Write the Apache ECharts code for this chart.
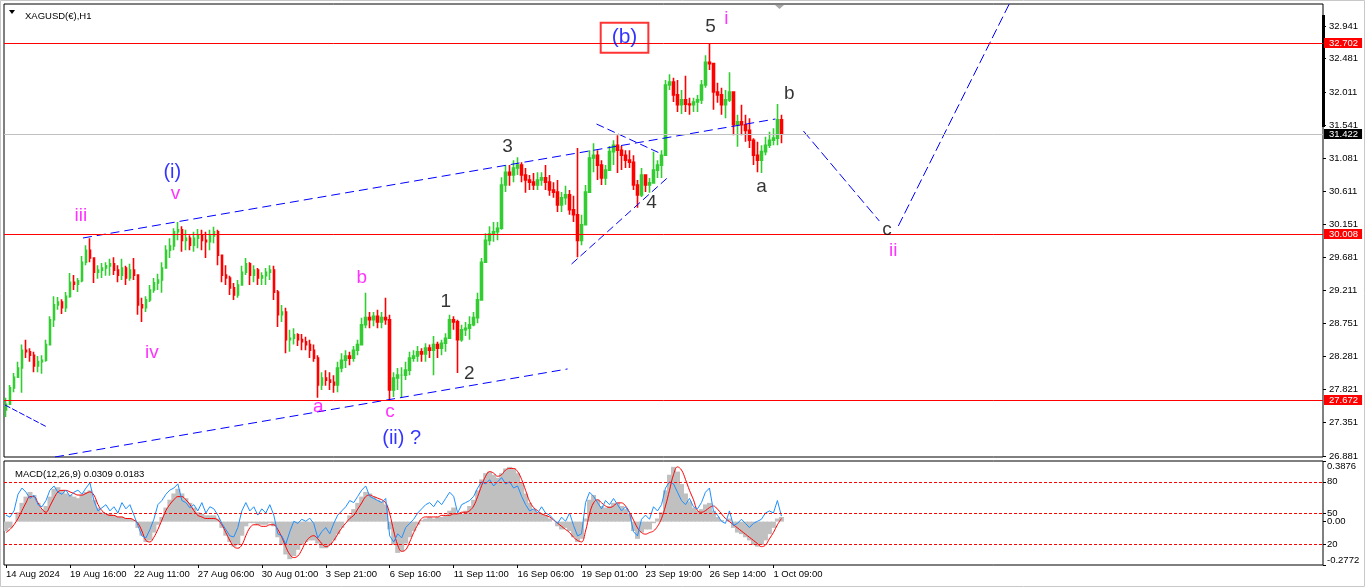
<!DOCTYPE html>
<html><head><meta charset="utf-8">
<script src="https://cdn.jsdelivr.net/npm/echarts@6/dist/echarts.min.js"></script>
<style>html,body{margin:0;padding:0;background:#fff}#c{width:1366px;height:588px}</style>
</head><body><div id="c"></div>
<script>
// ---------------- DATA ----------------
const symbolTitle = 'XAGUSD(€),H1';
const macdTitle = 'MACD(12,26,9) 0.0309 0.0183';
const xTickLabels = ['14 Aug 2024','19 Aug 16:00','22 Aug 11:00','27 Aug 06:00','30 Aug 01:00','3 Sep 21:00','6 Sep 16:00','11 Sep 11:00','16 Sep 06:00','19 Sep 01:00','23 Sep 19:00','26 Sep 14:00','1 Oct 09:00'];
const priceTicks = ['26.881','27.351','27.821','28.281','28.751','29.211','29.681','30.151','30.611','31.081','31.541','32.011','32.481','32.941'];
const macdTicks = [-0.2772, 0, 0.3876];
const oscLevels = [20, 50, 80];
const levelLines = [32.702, 30.008, 27.672];
const bidPrice = 31.422;

const firstOpen = 27.53;
const highs = [27.70,27.88,28.05,28.21,28.45,28.52,28.40,28.35,28.29,28.30,
28.52,28.85,29.13,29.12,29.09,29.19,29.46,29.43,29.39,29.70,
29.85,29.95,29.61,29.57,29.60,29.61,29.66,29.68,29.57,29.66,
29.56,29.59,29.67,29.43,29.11,29.13,29.29,29.39,29.45,29.61,
29.85,29.95,30.09,30.18,30.12,30.07,29.99,30.04,30.08,30.07,
30.04,30.07,30.11,30.07,29.71,29.57,29.42,29.32,29.36,29.56,
29.67,29.61,29.57,29.53,29.47,29.53,29.57,29.56,29.22,29.01,
28.97,28.66,28.68,28.61,28.60,28.56,28.52,28.45,28.30,28.06,
28.09,28.06,28.02,28.21,28.33,28.37,28.35,28.43,28.52,28.83,
29.18,28.91,28.91,28.94,28.91,29.11,28.87,28.06,28.12,28.13,
28.21,28.35,28.37,28.43,28.40,28.47,28.45,28.57,28.49,28.52,
28.61,28.87,28.85,28.80,28.73,28.77,28.85,28.91,29.18,29.67,
30.02,30.12,30.18,30.18,30.81,30.98,30.98,31.05,31.09,31.02,
30.94,30.84,30.87,30.88,30.88,30.98,30.84,30.74,30.77,30.60,
30.69,30.63,30.55,31.22,30.28,30.70,31.19,31.29,31.19,31.05,
30.98,31.25,31.33,31.40,31.25,31.19,31.19,31.12,30.77,30.94,
30.85,30.80,31.17,31.05,31.19,32.18,32.26,32.21,32.18,32.04,
32.24,31.93,31.93,31.97,32.18,32.53,32.70,32.41,32.14,32.07,
32.04,32.29,32.01,31.69,31.83,31.69,31.64,31.36,31.31,31.26,
31.38,31.45,31.50,31.84,31.69];
const lows = [27.43,27.60,27.78,27.98,27.77,28.26,28.21,28.06,28.06,28.04,
28.21,28.45,28.70,28.94,28.88,28.91,29.11,29.22,29.19,29.33,
29.57,29.61,29.32,29.38,29.39,29.42,29.42,29.43,29.33,29.36,
29.29,29.35,29.36,28.87,28.77,28.91,29.05,29.18,29.22,29.18,
29.53,29.67,29.78,29.92,29.76,29.78,29.78,29.76,29.81,29.78,
29.67,29.78,29.88,29.57,29.33,29.29,29.15,29.08,29.11,29.29,
29.43,29.29,29.33,29.29,29.29,29.29,29.36,29.08,28.70,28.77,
28.33,28.35,28.45,28.43,28.37,28.37,28.26,28.21,27.70,27.81,
27.87,27.81,27.77,27.78,28.06,28.12,28.16,28.21,28.30,28.45,
28.68,28.68,28.71,28.68,28.68,28.73,27.67,27.71,27.81,27.70,
27.95,28.02,28.21,28.21,28.21,28.21,28.26,28.02,28.26,28.30,
28.35,28.54,28.66,28.05,28.49,28.57,28.52,28.71,28.75,29.08,
29.61,29.85,29.90,29.92,30.07,30.60,30.69,30.74,30.84,30.74,
30.59,30.63,30.63,30.63,30.69,30.63,30.55,30.52,30.32,30.32,
30.42,30.28,30.18,29.68,29.85,30.14,30.60,30.88,30.77,30.70,
30.70,30.91,30.98,30.87,30.91,30.94,30.94,30.63,30.38,30.53,
30.60,30.59,30.77,30.80,30.80,31.12,32.04,31.87,31.73,31.70,
31.73,31.69,31.73,31.73,31.84,32.07,32.32,31.76,31.86,31.69,
31.64,31.87,31.40,31.24,31.40,31.31,31.22,30.98,30.88,30.87,
31.12,31.22,31.26,31.26,31.29];
const closes = [27.61,27.84,27.99,28.12,28.37,28.35,28.30,28.15,28.21,28.23,
28.45,28.80,29.01,29.05,28.97,29.13,29.33,29.30,29.35,29.61,
29.78,29.67,29.47,29.50,29.53,29.56,29.59,29.50,29.43,29.53,
29.39,29.50,29.43,29.01,28.97,29.08,29.22,29.32,29.36,29.53,
29.78,29.84,30.04,30.07,29.92,29.95,29.85,29.95,29.99,29.92,
29.90,29.98,30.04,29.71,29.43,29.39,29.25,29.15,29.29,29.47,
29.59,29.43,29.50,29.39,29.42,29.47,29.50,29.19,28.87,28.91,
28.52,28.54,28.59,28.52,28.49,28.45,28.37,28.26,27.88,27.98,
27.95,27.92,27.88,28.12,28.23,28.29,28.26,28.37,28.45,28.73,
28.83,28.80,28.85,28.77,28.83,28.80,27.81,27.98,28.02,28.02,
28.09,28.26,28.29,28.35,28.32,28.40,28.37,28.45,28.40,28.47,
28.54,28.80,28.77,28.52,28.66,28.68,28.73,28.83,29.08,29.61,
29.92,30.01,30.04,30.09,30.70,30.88,30.84,30.94,30.98,30.84,
30.77,30.74,30.70,30.77,30.80,30.74,30.63,30.60,30.42,30.52,
30.56,30.35,30.28,29.92,30.14,30.60,31.08,31.12,30.98,30.80,
30.91,31.17,31.26,31.19,31.12,31.05,31.02,30.70,30.56,30.84,
30.70,30.73,30.91,30.98,31.12,32.11,32.15,31.97,31.83,31.90,
31.84,31.83,31.87,31.90,32.11,32.43,32.41,32.01,31.97,31.83,
31.90,32.01,31.55,31.59,31.55,31.47,31.33,31.12,31.05,31.17,
31.26,31.33,31.36,31.62,31.42];

const macdHist = [-0.06,-0.04,0.00,0.06,0.12,0.16,0.19,0.17,0.12,0.08,
0.10,0.16,0.21,0.22,0.20,0.18,0.17,0.16,0.15,0.17,
0.19,0.20,0.14,0.09,0.06,0.05,0.05,0.04,0.03,0.03,
0.02,0.02,0.01,-0.04,-0.09,-0.13,-0.12,-0.07,-0.02,0.03,
0.09,0.14,0.18,0.21,0.18,0.15,0.12,0.09,0.06,0.05,
0.04,0.04,0.04,0.02,-0.04,-0.09,-0.13,-0.16,-0.15,-0.09,
-0.03,-0.01,-0.01,-0.02,-0.02,-0.02,-0.01,-0.03,-0.10,-0.15,
-0.21,-0.24,-0.22,-0.18,-0.15,-0.13,-0.12,-0.12,-0.14,-0.17,
-0.17,-0.15,-0.12,-0.08,-0.04,0.00,0.04,0.08,0.12,0.16,
0.19,0.18,0.16,0.14,0.13,0.11,-0.05,-0.15,-0.20,-0.19,
-0.14,-0.10,-0.06,-0.02,0.01,0.02,0.03,0.02,0.03,0.03,
0.04,0.07,0.09,0.05,0.05,0.07,0.10,0.14,0.20,0.27,
0.31,0.32,0.30,0.28,0.31,0.34,0.35,0.34,0.31,0.25,
0.18,0.12,0.08,0.06,0.05,0.04,0.02,0.00,-0.03,-0.05,
-0.04,-0.06,-0.10,-0.13,-0.11,0.02,0.14,0.17,0.14,0.10,
0.09,0.10,0.12,0.12,0.10,0.08,0.05,-0.06,-0.11,-0.07,
-0.05,-0.05,-0.01,0.02,0.06,0.20,0.30,0.35,0.32,0.24,
0.18,0.13,0.09,0.07,0.08,0.11,0.12,0.07,0.03,0.01,
0.00,0.02,-0.04,-0.07,-0.08,-0.10,-0.12,-0.15,-0.16,-0.15,
-0.12,-0.08,-0.04,0.02,0.03];
const macdSignal = [-0.07,-0.05,-0.02,0.02,0.07,0.12,0.16,0.16,0.12,0.08,
0.06,0.10,0.15,0.19,0.20,0.20,0.19,0.18,0.17,0.17,
0.18,0.19,0.17,0.11,0.07,0.05,0.04,0.04,0.03,0.03,
0.02,0.02,0.01,-0.01,-0.06,-0.12,-0.13,-0.10,-0.05,0.01,
0.07,0.11,0.14,0.16,0.16,0.14,0.11,0.07,0.04,0.03,
0.02,0.02,0.02,0.01,-0.02,-0.07,-0.12,-0.16,-0.17,-0.15,
-0.09,-0.04,-0.02,-0.02,-0.03,-0.03,-0.02,-0.02,-0.05,-0.10,
-0.16,-0.21,-0.23,-0.22,-0.18,-0.13,-0.10,-0.09,-0.11,-0.14,
-0.16,-0.15,-0.12,-0.08,-0.04,-0.01,0.02,0.04,0.08,0.12,
0.16,0.17,0.16,0.15,0.14,0.12,0.05,-0.06,-0.15,-0.19,
-0.18,-0.13,-0.07,-0.02,0.02,0.03,0.03,0.03,0.03,0.04,
0.04,0.04,0.05,0.05,0.06,0.06,0.07,0.10,0.16,0.23,
0.29,0.32,0.31,0.29,0.30,0.33,0.34,0.34,0.32,0.27,
0.20,0.13,0.09,0.07,0.05,0.04,0.03,0.01,-0.01,-0.03,
-0.05,-0.07,-0.10,-0.12,-0.13,-0.06,0.05,0.12,0.14,0.12,
0.10,0.09,0.10,0.12,0.12,0.10,0.06,0.01,-0.04,-0.07,
-0.08,-0.07,-0.06,-0.03,0.02,0.10,0.20,0.30,0.35,0.33,
0.27,0.20,0.14,0.07,0.06,0.07,0.09,0.10,0.08,0.05,
0.02,0.00,-0.02,-0.04,-0.06,-0.08,-0.10,-0.12,-0.14,-0.16,
-0.15,-0.11,-0.07,-0.02,0.02];
const oscLine = [48,46,52,68,74,70,64,67,58,56,
62,72,76,70,68,72,66,70,72,68,
74,79,62,52,55,58,52,56,50,60,
54,58,48,38,28,26,34,44,58,62,
68,72,74,78,62,60,55,58,52,60,
50,56,54,48,40,34,28,27,36,52,
60,52,56,48,54,50,58,48,30,28,
20,32,42,40,44,42,45,40,26,32,
36,30,40,48,52,56,62,60,66,72,
76,66,64,62,60,64,28,22,30,26,
36,40,44,50,54,58,60,56,62,58,
64,70,66,50,58,60,62,66,74,80,
78,82,76,80,84,78,80,74,76,66,
58,52,54,50,56,50,48,44,40,46,
42,50,38,28,30,60,70,66,60,54,
62,58,64,58,52,56,50,32,28,44,
48,44,56,52,58,74,80,78,70,62,
58,64,56,54,60,70,74,52,48,42,
40,52,38,40,44,40,36,40,42,44,
50,52,50,62,47];

// trend lines: [bar index (4h slot), price]
const channelUpper = [[19.25, 29.953], [192.5, 31.630]];
const channelLower = [[12.25, 26.866], [140.5, 28.107]];
const leadLine = [[-0.25, 27.599], [10.25, 27.289]];
const wedgeLower = [[141.5, 29.586], [166, 30.827]];
const wedgeUpper = [[147.75, 31.559], [163.5, 31.151]];
const projectionDown = [[199.5, 31.461], [218.5, 30.192]];
const projectionUp = [[223.25, 30.122], [251, 33.251]];

// wave labels: text, bar index, price, degree
const waveText  = ['(b)','5','i','b','a','3','4','1','2','c','ii','(i)','v','iii','iv','b','a','c','(ii) ?'];
const waveX     = [154.75,176.25,180.25,196,189,125.5,161.5,110,115.9,220.4,222,41.6,42.4,18.75,36.5,89,78.1,96.1,99];
const wavePrice = [32.777,32.931,33.039,31.982,30.672,31.235,30.446,29.051,28.040,30.066,29.770,30.876,30.573,30.263,28.339,29.396,27.571,27.501,27.120];
const waveDegree= ['minor','minuette','minute','minuette','minuette','minuette','minuette','minuette','minuette','minuette','minute','minor','minute','minute','minute','minute','minute','minute','minor'];

// ---------------- CHART ----------------
const SLOTS = 330;
const FONT = '"Liberation Sans", Arial, sans-serif';
const FS = 9.5;
const cats = Array.from({length: SLOTS}, (_, i) => (i % 16 === 0 && xTickLabels[i / 16]) ? xTickLabels[i / 16] : '');
const candles = closes.map((c, i) => {
  const o = i === 0 ? firstOpen : closes[i - 1];
  return [o, c, Math.min(lows[i], o, c), Math.max(highs[i], o, c)];
});
const degreeStyle = {
  minor: {color: '#0000ff', fontSize: 20},
  minute: {color: '#ff00ff', fontSize: 19},
  minuette: {color: '#000000', fontSize: 19}
};
const labelData = waveText.map((t, i) => {
  const st = degreeStyle[waveDegree[i]];
  const lab = {show: true, position: 'inside', formatter: t, color: st.color, fontSize: st.fontSize, fontFamily: FONT};
  if (t === '(b)') Object.assign(lab, {fontSize: 21, borderColor: '#ff0000', borderWidth: 2, padding: [5, 11, 4, 11], lineHeight: 21});
  return {value: [waveX[i], wavePrice[i]], label: lab};
});
function trend(data, dash) {
  return {type: 'line', xAxisIndex: 1, yAxisIndex: 0, data: data, showSymbol: false, symbol: 'none', silent: true, z: 4,
    lineStyle: {color: '#0000ff', width: 1, type: dash}, animation: false};
}
const redLab = v => ({show: true, position: 'end', distance: 1, formatter: v.toFixed(3), backgroundColor: '#ff0000', color: '#fff', fontSize: FS, fontFamily: FONT, padding: [1, 4, 0, 5], lineHeight: 9});

const chart = echarts.init(document.getElementById('c'), null, {renderer: 'canvas'});
chart.setOption({
  animation: false,
  backgroundColor: '#ffffff',
  textStyle: {fontFamily: FONT},
  title: [
    {text: symbolTitle, left: 20, top: 6, textStyle: {fontSize: FS, fontWeight: 'normal', color: '#000', fontFamily: FONT}},
    {text: macdTitle, left: 10, top: 464, textStyle: {fontSize: FS, fontWeight: 'normal', color: '#000', fontFamily: FONT}}
  ],
  grid: [
    {left: 4, right: 43, top: 4, height: 453, show: true, borderColor: '#000', borderWidth: 1, backgroundColor: 'transparent'},
    {left: 4, right: 43, top: 461, height: 104, show: true, borderColor: '#000', borderWidth: 1, backgroundColor: 'transparent'}
  ],
  xAxis: [
    {type: 'category', gridIndex: 0, data: cats, boundaryGap: true, axisLine: {show: false, onZero: false}, axisTick: {show: false}, axisLabel: {show: false}, splitLine: {show: false}},
    {type: 'value', gridIndex: 0, min: -0.5, max: SLOTS - 0.5, show: false, axisLine: {onZero: false}, splitLine: {show: false}},
    {type: 'category', gridIndex: 1, data: cats, boundaryGap: true, position: 'bottom',
      axisLine: {show: false, onZero: false},
      axisTick: {show: true, alignWithLabel: true, interval: (i, v) => v !== '', length: 3, lineStyle: {color: '#000'}},
      axisLabel: {interval: (i, v) => v !== '', align: 'left', margin: 4, fontSize: FS, color: '#000', fontFamily: FONT},
      splitLine: {show: false}}
  ],
  yAxis: [
    {type: 'value', gridIndex: 0, position: 'right', min: 26.866, max: 33.251,
      axisLine: {show: false, onZero: false}, splitLine: {show: false},
      axisTick: {show: true, length: 3, customValues: priceTicks.map(Number), lineStyle: {color: '#000'}},
      axisLabel: {customValues: priceTicks.map(Number), formatter: v => v.toFixed(3), margin: 6, fontSize: FS, color: '#000', fontFamily: FONT}},
    {type: 'value', gridIndex: 1, position: 'right', min: -0.2772, max: 0.3876,
      axisLine: {show: false, onZero: false}, splitLine: {show: false},
      axisTick: {show: true, length: 3, customValues: macdTicks, lineStyle: {color: '#000'}},
      axisLabel: {customValues: macdTicks, formatter: v => v === 0 ? '0.00' : v.toFixed(4), margin: 4, fontSize: FS, color: '#000', fontFamily: FONT,
        verticalAlignMaxLabel: 'top', verticalAlignMinLabel: 'bottom'}},
    {type: 'value', gridIndex: 1, position: 'right', min: 0, max: 100,
      axisLine: {show: false, onZero: false}, splitLine: {show: false},
      axisTick: {show: true, length: 3, customValues: oscLevels, lineStyle: {color: '#000'}},
      axisLabel: {customValues: oscLevels, formatter: v => String(v), margin: 4, fontSize: FS, color: '#000', fontFamily: FONT}}
  ],
  series: [
    {type: 'candlestick', xAxisIndex: 0, yAxisIndex: 0, data: candles, barWidth: 2, z: 2, silent: true,
      itemStyle: {color: '#33cc33', color0: '#ff0000', borderColor: '#33cc33', borderColor0: '#ff0000', borderWidth: 1.6}},
    {type: 'line', xAxisIndex: 1, yAxisIndex: 0, data: [], silent: true, z: 5,
      markLine: {symbol: 'none', silent: true, animation: false, z: 5,
        data: [
          {yAxis: bidPrice, lineStyle: {color: '#c0c0c0', width: 1, type: 'solid'},
            label: {show: true, position: 'end', distance: 1, formatter: bidPrice.toFixed(3), backgroundColor: '#000', color: '#fff', fontSize: FS, fontFamily: FONT, padding: [1, 4, 0, 5], lineHeight: 9}},
          ...levelLines.map(v => ({yAxis: v, lineStyle: {color: '#ff0000', width: 1, type: 'solid'}, label: redLab(v)}))
        ]}},
    trend(channelUpper, [9, 5]),
    trend(channelLower, [9, 5]),
    trend(leadLine, [6, 2]),
    trend(wedgeLower, [8, 4]),
    trend(wedgeUpper, [8, 4]),
    trend(projectionDown, [10, 4]),
    trend(projectionUp, [10, 4]),
    {type: 'scatter', xAxisIndex: 1, yAxisIndex: 0, symbolSize: 0, data: labelData, silent: true, z: 6},
    {type: 'bar', xAxisIndex: 2, yAxisIndex: 1, data: macdHist, barWidth: 5, barGap: '0%', silent: true, z: 1,
      itemStyle: {color: '#c0c0c0'}},
    {type: 'line', xAxisIndex: 2, yAxisIndex: 1, data: macdSignal, showSymbol: false, symbol: 'none', smooth: 0.4, silent: true, z: 3,
      lineStyle: {color: '#ff0000', width: 1}},
    {type: 'line', xAxisIndex: 2, yAxisIndex: 2, data: oscLine, showSymbol: false, symbol: 'none', silent: true, z: 4,
      lineStyle: {color: '#1e90ff', width: 1},
      markLine: {symbol: 'none', silent: true, label: {show: false}, animation: false,
        data: oscLevels.map(v => ({yAxis: v})), lineStyle: {color: '#ff0000', width: 1, type: [3, 2]}}}
  ],
  graphic: [
    {type: 'rect', shape: {x: 0.5, y: 0.5, width: 1364, height: 586}, style: {fill: null, stroke: '#c8c8c8', lineWidth: 1}, silent: true},
    {type: 'polygon', shape: {points: [[9, 10], [15, 10], [12, 14]]}, style: {fill: '#000'}, silent: true},
    {type: 'polygon', shape: {points: [[775, 5], [784, 5], [779.5, 9]]}, style: {fill: '#a8a8a8'}, silent: true},
    {type: 'rect', shape: {x: 1322, y: 15, width: 3, height: 112}, style: {fill: '#000'}, silent: true}
  ]
});
</script>
</body></html>
